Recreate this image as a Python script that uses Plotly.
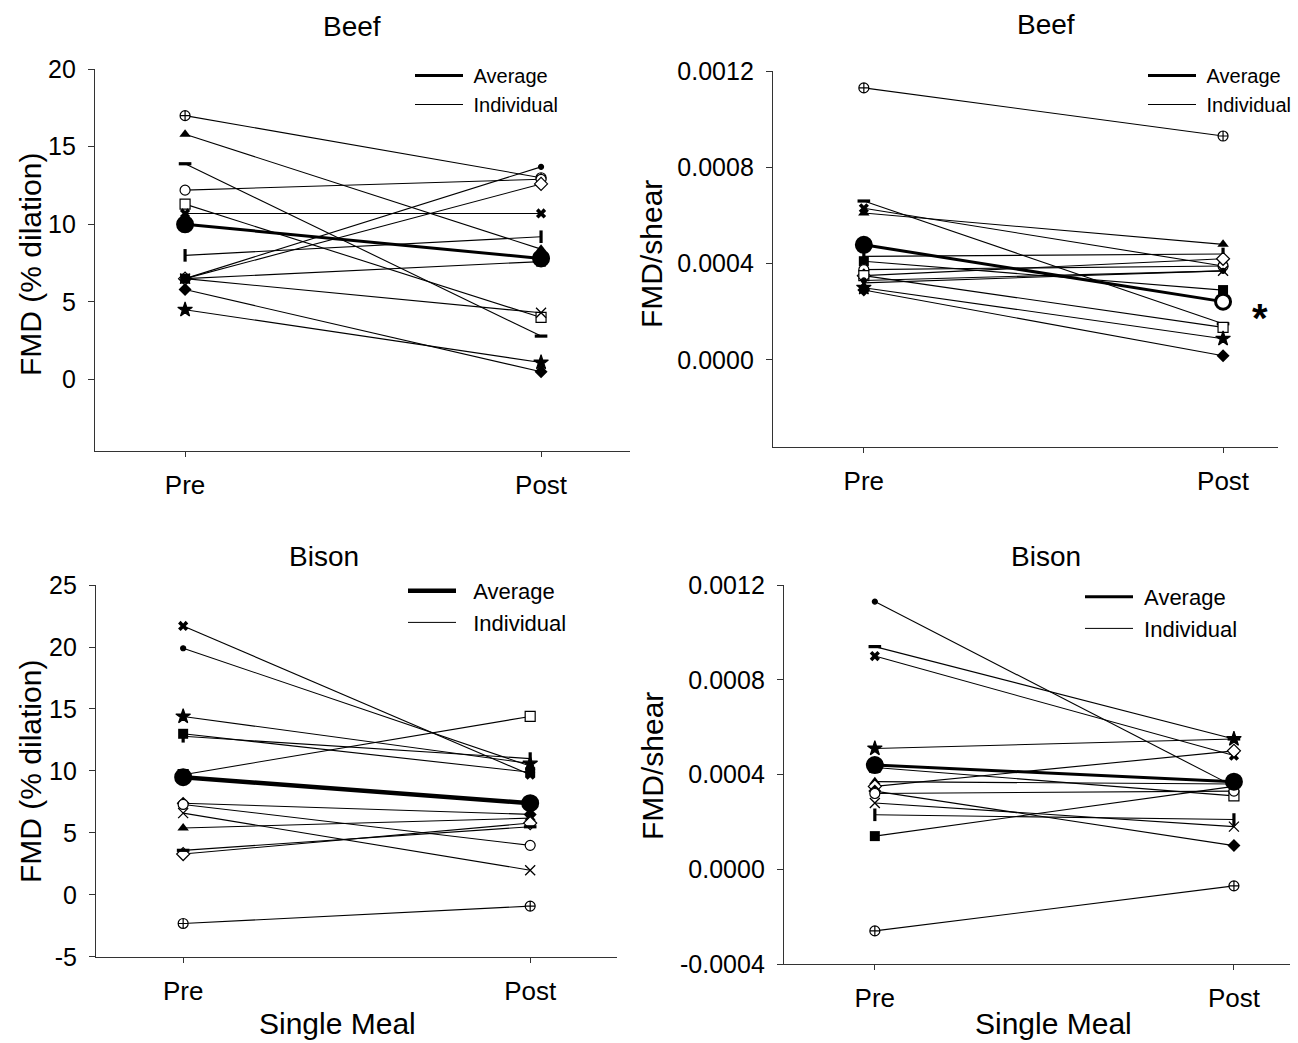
import plotly.graph_objects as go

# ---------------- data ----------------
conditions = ["Pre", "Post"]

# symbols used for the 13 individual subjects (per panel)
beef_fmd_symbols = ["circle-cross", "triangle-up", "line-ew-open", "circle", "square", "x",
                    "line-ns-open", "diamond", "dot", "square", "x-thin-open", "diamond", "star"]
beef_fmd_fill = ["white", "black", "black", "white", "white", "black",
                 "black", "white", "black", "black", "black", "black", "black"]
beef_fmd_pre = [17.0, 15.8, 13.9, 12.2, 11.3, 10.7, 8.0, 6.5, 6.5, 6.5, 6.5, 5.8, 4.5]
beef_fmd_post = [13.0, 8.4, 2.8, 12.9, 4.0, 10.7, 9.2, 12.6, 13.7, 7.6, 4.3, 0.5, 1.1]
beef_fmd_avg = [10.0, 7.8]

beef_shear_symbols = ["circle-cross", "line-ew-open", "x", "triangle-up", "square", "line-ns-open",
                      "circle", "diamond", "square", "dot", "x-thin-open", "star", "diamond"]
beef_shear_fill = ["white", "black", "black", "black", "black", "black",
                   "white", "white", "white", "black", "black", "black", "black"]
beef_shear_pre = [0.00113, 0.00066, 0.00063, 0.00061, 0.00041, 0.00043, 0.000375,
                  0.00035, 0.00035, 0.00033, 0.00032, 0.00030, 0.00029]
beef_shear_post = [0.00093, 0.00015, 0.00039, 0.00048, 0.00029, 0.00044, 0.00039,
                   0.00042, 0.000135, 0.00037, 0.00037, 0.000088, 0.000017]
beef_shear_avg = [0.000478, 0.000242]

bison_fmd_symbols = ["x", "dot", "star", "square", "line-ns-open", "square", "diamond",
                     "circle", "x-thin-open", "triangle-up", "diamond", "line-ew-open", "circle-cross"]
bison_fmd_fill = ["black", "black", "black", "black", "black", "white", "black",
                  "white", "black", "black", "white", "black", "white"]
bison_fmd_pre = [21.7, 19.9, 14.4, 13.0, 12.8, 9.7, 7.4, 7.3, 6.6, 5.4, 3.3, 3.6, -2.3]
bison_fmd_post = [9.7, 10.4, 10.6, 9.9, 11.0, 14.4, 6.5, 4.0, 2.0, 6.2, 5.8, 5.5, -0.9]
bison_fmd_avg = [9.5, 7.4]

bison_shear_symbols = ["dot", "line-ew-open", "x", "star", "square", "triangle-up", "diamond",
                       "diamond", "x-thin-open", "line-ns-open", "square", "circle", "circle-cross"]
bison_shear_fill = ["black", "black", "black", "black", "white", "black", "white",
                    "black", "black", "black", "black", "white", "white"]
bison_shear_pre = [0.00113, 0.00094, 0.00090, 0.00051, 0.00043, 0.00037, 0.00035,
                   0.00033, 0.00028, 0.00023, 0.00014, 0.00032, -0.00026]
bison_shear_post = [0.00035, 0.00055, 0.00048, 0.00055, 0.00031, 0.00036, 0.00050,
                    0.00010, 0.00018, 0.00021, 0.00035, 0.00033, -0.00007]
bison_shear_avg = [0.00044, 0.00037]

# y tick values and labels (hyphen minus as in the original)
beef_fmd_ticks = [0, 5, 10, 15, 20]
beef_fmd_ticklabels = ["0", "5", "10", "15", "20"]
beef_shear_ticks = [0, 0.0004, 0.0008, 0.0012]
beef_shear_ticklabels = ["0.0000", "0.0004", "0.0008", "0.0012"]
bison_fmd_ticks = [-5, 0, 5, 10, 15, 20, 25]
bison_fmd_ticklabels = ["-5", "0", "5", "10", "15", "20", "25"]
bison_shear_ticks = [-0.0004, 0, 0.0004, 0.0008, 0.0012]
bison_shear_ticklabels = ["-0.0004", "0.0000", "0.0004", "0.0008", "0.0012"]

panels = [
    dict(pre=beef_fmd_pre, post=beef_fmd_post, sym=beef_fmd_symbols,
         fill=beef_fmd_fill, avg=beef_fmd_avg, avg_fill=["black", "black"], avg_w=3,
         ticks=beef_fmd_ticks, ticklabels=beef_fmd_ticklabels, pad="\u00a0"),
    dict(pre=beef_shear_pre, post=beef_shear_post, sym=beef_shear_symbols,
         fill=beef_shear_fill, avg=beef_shear_avg, avg_fill=["black", "white"], avg_w=3,
         ticks=beef_shear_ticks, ticklabels=beef_shear_ticklabels, pad="\u00a0"),
    dict(pre=bison_fmd_pre, post=bison_fmd_post, sym=bison_fmd_symbols,
         fill=bison_fmd_fill, avg=bison_fmd_avg, avg_fill=["black", "black"], avg_w=4.5,
         ticks=bison_fmd_ticks, ticklabels=bison_fmd_ticklabels, pad="\u00a0\u00a0"),
    dict(pre=bison_shear_pre, post=bison_shear_post, sym=bison_shear_symbols,
         fill=bison_shear_fill, avg=bison_shear_avg, avg_fill=["black", "black"], avg_w=3,
         ticks=bison_shear_ticks, ticklabels=bison_shear_ticklabels, pad="\u00a0"),
]

W, H = 1298, 1043
FONT = "Liberation Sans, Arial, sans-serif"

fig = go.Figure()

xnums = [0, 1]
for i, p in enumerate(panels):
    ax = "" if i == 0 else str(i + 1)
    xa, ya = "x" + ax, "y" + ax
    for pre, post, s, f in zip(p["pre"], p["post"], p["sym"], p["fill"]):
        size = 10
        lw = 1.2
        if s == "dot":
            s, size = "circle", 5
        elif s == "star":
            size = 11
        elif s in ("line-ew-open", "line-ns-open"):
            size, lw = 9, 3.2
        elif s == "x":
            size, lw = 9, 0
        elif s == "x-thin-open":
            size, lw = 10, 1.3
        elif s in ("triangle-up", "diamond", "square") and f == "black":
            lw = 0
        fig.add_trace(go.Scatter(
            x=xnums, y=[pre, post], xaxis=xa, yaxis=ya, mode="lines+markers",
            line=dict(color="black", width=1.1),
            marker=dict(symbol=s, size=size, color=f, line=dict(color="black", width=lw)),
            showlegend=False, hoverinfo="skip"))
    fig.add_trace(go.Scatter(
        x=xnums, y=p["avg"], xaxis=xa, yaxis=ya, mode="lines+markers",
        line=dict(color="black", width=p["avg_w"]),
        marker=dict(symbol="circle", size=15, color=p["avg_fill"],
                    line=dict(color="black", width=3)),
        showlegend=False, hoverinfo="skip"))
    lg = "legend" if i == 0 else "legend" + str(i + 1)
    fig.add_trace(go.Scatter(x=[None], y=[None], xaxis=xa, yaxis=ya, mode="lines",
                             line=dict(color="black", width=p["avg_w"]),
                             name=p["pad"] + "Average", legend=lg))
    fig.add_trace(go.Scatter(x=[None], y=[None], xaxis=xa, yaxis=ya, mode="lines",
                             line=dict(color="black", width=1),
                             name=p["pad"] + "Individual", legend=lg))

xdomains = [[0.0732, 0.4854], [0.5955, 0.9846], [0.0740, 0.4753], [0.6040, 0.9938]]
ydomains = [[0.5676, 0.9338], [0.5714, 0.9319], [0.0825, 0.4391], [0.0757, 0.4391]]
xranges = [[-0.253, 1.25], [-0.253, 1.153], [-0.251, 1.25], [-0.253, 1.156]]
yranges = [[-4.6, 20], [-0.000362, 0.0012], [-5, 25], [-0.0004, 0.0012]]

layout = dict(width=W, height=H, margin=dict(l=0, r=0, t=0, b=0, autoexpand=False),
              paper_bgcolor="white", plot_bgcolor="white",
              font=dict(family=FONT, color="black"))
for i, p in enumerate(panels):
    ax = "" if i == 0 else str(i + 1)
    layout["xaxis" + ax] = dict(
        domain=xdomains[i], range=xranges[i], anchor="y" + ax,
        tickvals=xnums, ticktext=conditions, showline=True, linecolor="#333",
        linewidth=1.3, ticks="outside", ticklen=5, tickcolor="#333",
        showgrid=False, zeroline=False, tickfont=dict(size=26, family=FONT),
        ticklabelstandoff=6, fixedrange=True, automargin=False)
    layout["yaxis" + ax] = dict(
        domain=ydomains[i], range=yranges[i], anchor="x" + ax,
        tickvals=p["ticks"], ticktext=p["ticklabels"], showline=True, linecolor="#333",
        linewidth=1.3, ticks="outside", ticklen=6, tickcolor="#333",
        showgrid=False, zeroline=False, tickfont=dict(size=25, family=FONT),
        ticklabelstandoff=7, fixedrange=True, automargin=False)

leg_pos = [(415, 56, 20), (1148, 56, 20), (408, 570, 22), (1085, 576, 22)]
for i, (lx, ly, fs) in enumerate(leg_pos):
    key = "legend" if i == 0 else "legend" + str(i + 1)
    layout[key] = dict(x=(lx - 5) / W, y=1 - ly / H, xanchor="left", yanchor="top",
                       bgcolor="rgba(0,0,0,0)", font=dict(size=fs, family=FONT),
                       itemwidth=48, tracegroupgap=0)

def ann(text, px, py, size, angle=0):
    return dict(text=text, x=px / W, y=1 - py / H, xref="paper", yref="paper",
                showarrow=False, font=dict(size=size, family=FONT, color="black"),
                textangle=angle, xanchor="center", yanchor="middle")

annotations = [
    ann("Beef", 352, 27, 28), ann("Beef", 1046, 24, 28),
    ann("Bison", 324, 556, 28), ann("Bison", 1046, 556, 28),
    ann("FMD (% dilation)", 30, 265, 30, -90), ann("FMD/shear", 651, 254, 30, -90),
    ann("FMD (% dilation)", 30, 772, 30, -90), ann("FMD/shear", 652, 766, 30, -90),
    ann("Single Meal", 337, 1023, 30), ann("Single Meal", 1053, 1023, 30),
    ann("<b>*</b>", 1260, 318, 40),
]
layout["annotations"] = annotations

fig.update_layout(**layout)
fig.write_html("out.html")
